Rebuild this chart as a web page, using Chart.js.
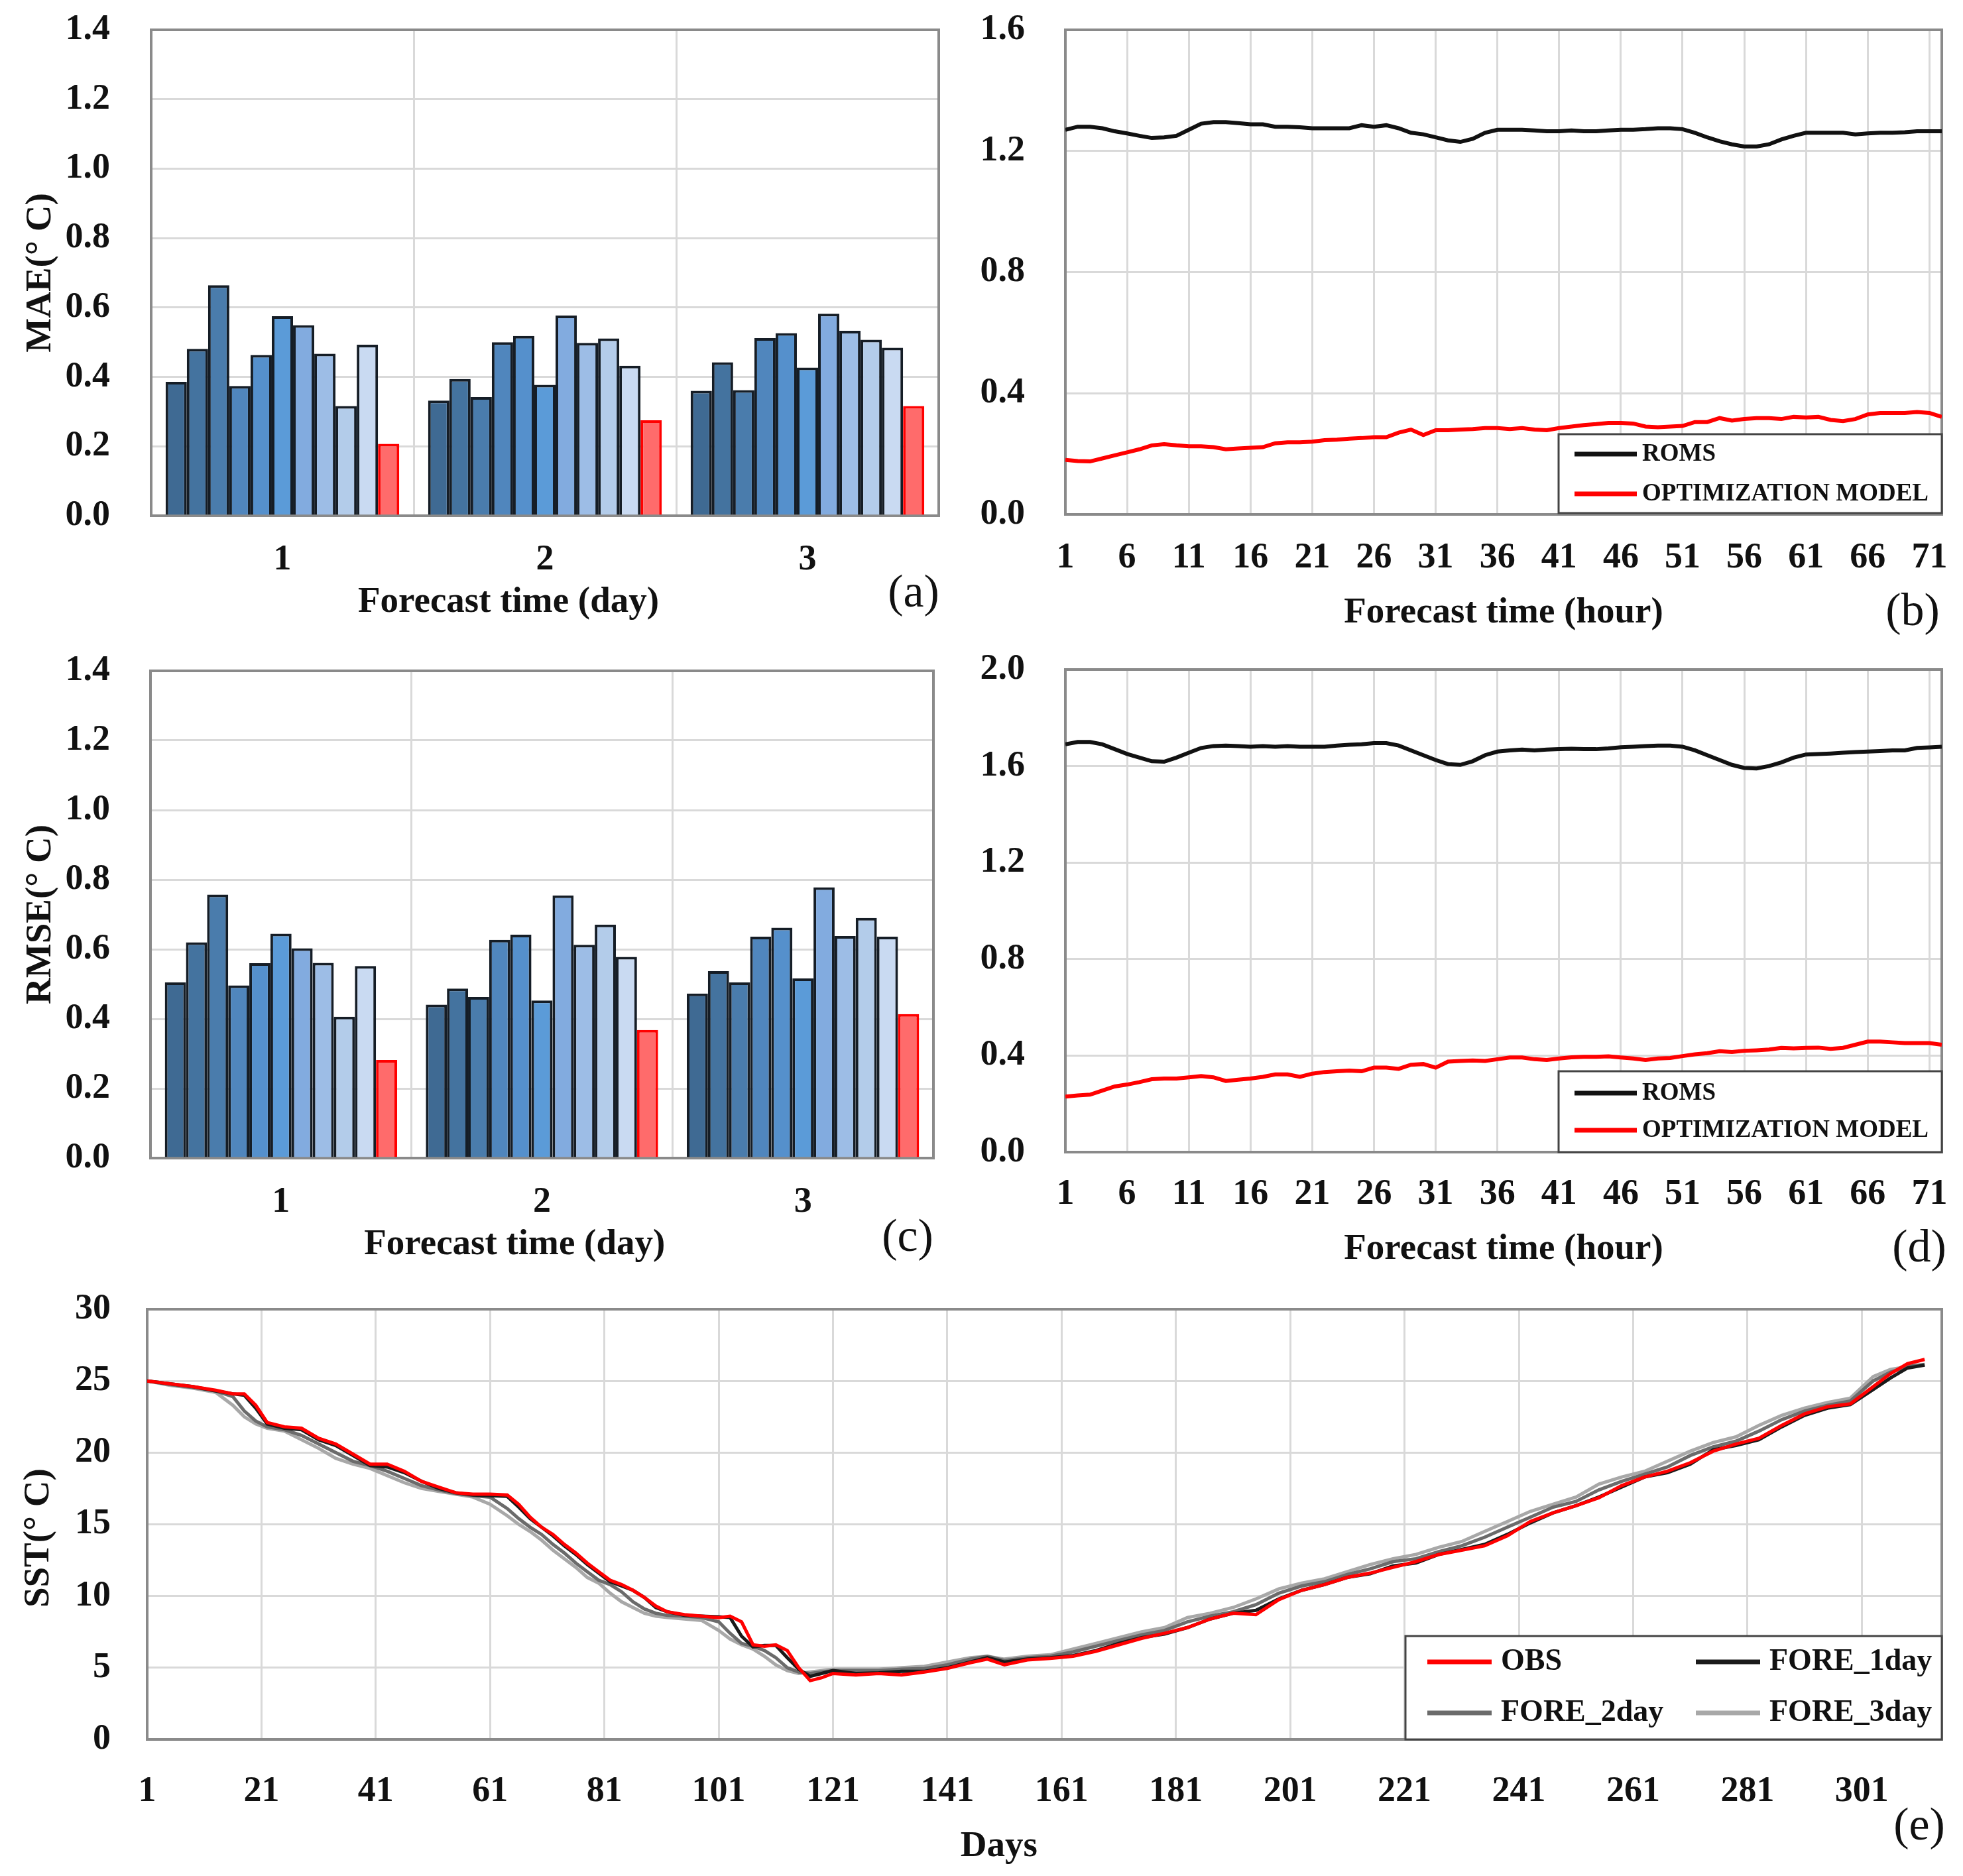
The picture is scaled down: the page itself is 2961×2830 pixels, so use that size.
<!DOCTYPE html>
<html>
<head>
<meta charset="utf-8">
<title>SST forecast error</title>
<script src="https://cdn.jsdelivr.net/npm/chart.js@4.4.1/dist/chart.umd.min.js"></script>
<style>
  body { margin: 0; background: #fff; }
  #page { position: relative; width: 2961px; height: 2830px; background: #fff; }
  .panel { position: absolute; }
</style>
</head>
<body>
<div id="page">
  <div class="panel" style="left:0px;top:0px;width:1450px;height:960px"><canvas id="chartA"></canvas></div>
  <div class="panel" style="left:1450px;top:0px;width:1511px;height:960px"><canvas id="chartB"></canvas></div>
  <div class="panel" style="left:0px;top:960px;width:1450px;height:960px"><canvas id="chartC"></canvas></div>
  <div class="panel" style="left:1450px;top:960px;width:1511px;height:960px"><canvas id="chartD"></canvas></div>
  <div class="panel" style="left:0px;top:1920px;width:2961px;height:910px"><canvas id="chartE"></canvas></div>
</div>
<script>
// ---- data ----
var dayLabels = ['1', '2', '3'];
var seriesNames = ['Model 1', 'Model 2', 'Model 3', 'Model 4', 'Model 5', 'Model 6',
                   'Model 7', 'Model 8', 'Model 9', 'Model 10', 'Optimization model'];

// MAE per forecast day (11 bars per group)
var maeDay1 = [0.386, 0.481, 0.664, 0.374, 0.463, 0.575, 0.549, 0.467, 0.316, 0.493, 0.207];
var maeDay2 = [0.332, 0.394, 0.342, 0.500, 0.518, 0.377, 0.577, 0.498, 0.511, 0.432, 0.275];
var maeDay3 = [0.360, 0.442, 0.362, 0.512, 0.526, 0.427, 0.582, 0.533, 0.507, 0.484, 0.316];

// RMSE per forecast day
var rmseDay1 = [0.505, 0.620, 0.757, 0.496, 0.560, 0.645, 0.603, 0.561, 0.406, 0.552, 0.282];
var rmseDay2 = [0.441, 0.487, 0.463, 0.627, 0.642, 0.453, 0.755, 0.613, 0.671, 0.578, 0.368];
var rmseDay3 = [0.473, 0.537, 0.505, 0.636, 0.662, 0.516, 0.778, 0.638, 0.690, 0.636, 0.414];

// hourly MAE / RMSE, hours 1..72
var hours = Array.from({ length: 72 }, function (_, i) { return i + 1; });
var hourTicks = [1, 6, 11, 16, 21, 26, 31, 36, 41, 46, 51, 56, 61, 66, 71];

var romsMae = [
  1.270, 1.280, 1.280, 1.275, 1.265, 1.258, 1.250, 1.243, 1.245, 1.250, 1.270, 1.290,
  1.295, 1.295, 1.292, 1.288, 1.288, 1.280, 1.280, 1.278, 1.275, 1.275, 1.275, 1.275,
  1.285, 1.280, 1.285, 1.275, 1.260, 1.255, 1.245, 1.235, 1.230, 1.240, 1.260, 1.270,
  1.270, 1.270, 1.268, 1.265, 1.265, 1.268, 1.265, 1.265, 1.268, 1.270, 1.270, 1.272,
  1.275, 1.275, 1.272, 1.260, 1.245, 1.232, 1.222, 1.215, 1.215, 1.222, 1.238, 1.250,
  1.260, 1.260, 1.260, 1.260, 1.255, 1.258, 1.260, 1.260, 1.262, 1.265, 1.265, 1.265];
var optMae = [
  0.180, 0.176, 0.175, 0.185, 0.195, 0.205, 0.215, 0.228, 0.232, 0.228, 0.225, 0.225,
  0.222, 0.215, 0.218, 0.220, 0.222, 0.235, 0.238, 0.238, 0.240, 0.245, 0.247, 0.250,
  0.252, 0.255, 0.255, 0.270, 0.280, 0.262, 0.278, 0.278, 0.280, 0.282, 0.285, 0.285,
  0.282, 0.285, 0.280, 0.278, 0.285, 0.290, 0.295, 0.298, 0.302, 0.302, 0.300, 0.290,
  0.288, 0.290, 0.292, 0.305, 0.305, 0.318, 0.310, 0.315, 0.318, 0.318, 0.315, 0.322,
  0.320, 0.322, 0.312, 0.308, 0.315, 0.330, 0.335, 0.335, 0.335, 0.338, 0.335, 0.322];
var romsRmse = [
  1.690, 1.700, 1.700, 1.690, 1.670, 1.650, 1.635, 1.620, 1.618, 1.635, 1.655, 1.675,
  1.683, 1.685, 1.683, 1.680, 1.683, 1.680, 1.683, 1.680, 1.680, 1.680, 1.685, 1.688,
  1.690, 1.695, 1.695, 1.685, 1.665, 1.645, 1.625, 1.608, 1.605, 1.620, 1.645, 1.660,
  1.665, 1.668, 1.665, 1.668, 1.670, 1.672, 1.670, 1.670, 1.673, 1.678, 1.680, 1.683,
  1.685, 1.685, 1.680, 1.665, 1.645, 1.625, 1.605, 1.592, 1.590, 1.600, 1.615, 1.635,
  1.648, 1.650, 1.652, 1.655, 1.658, 1.660, 1.662, 1.665, 1.665, 1.675, 1.677, 1.680];
var optRmse = [
  0.230, 0.235, 0.238, 0.255, 0.272, 0.280, 0.290, 0.302, 0.305, 0.305, 0.310, 0.315,
  0.310, 0.295, 0.300, 0.305, 0.312, 0.322, 0.322, 0.312, 0.325, 0.332, 0.335, 0.338,
  0.335, 0.350, 0.350, 0.345, 0.362, 0.365, 0.350, 0.375, 0.378, 0.380, 0.378, 0.385,
  0.392, 0.392, 0.385, 0.382, 0.388, 0.393, 0.395, 0.395, 0.397, 0.392, 0.388, 0.382,
  0.388, 0.390, 0.398, 0.405, 0.410, 0.418, 0.415, 0.420, 0.422, 0.425, 0.432, 0.430,
  0.432, 0.433, 0.428, 0.432, 0.445, 0.458, 0.458, 0.455, 0.452, 0.452, 0.452, 0.445];

// daily SST, sampled days
var dayTicks = [1, 21, 41, 61, 81, 101, 121, 141, 161, 181, 201, 221, 241, 261, 281, 301];
var sstDays = [
  1, 5, 9, 13, 16, 18, 20, 22, 25, 28,
  31, 34, 37, 40, 43, 46, 49, 52, 55, 58,
  61, 64, 66, 68, 70, 72, 74, 76, 78, 80,
  82, 84, 86, 88, 90, 92, 95, 98, 101, 103,
  105, 107, 109, 111, 113, 115, 117, 119, 121, 125,
  129, 133, 137, 141, 145, 148, 151, 155, 159, 163,
  167, 171, 175, 179, 183, 187, 191, 195, 199, 203,
  207, 211, 215, 219, 223, 227, 231, 235, 239, 243,
  247, 251, 255, 259, 263, 267, 271, 275, 279, 283,
  287, 291, 295, 299, 303, 306, 309, 312];
var sstObs = [
  25.0, 24.8, 24.6, 24.35, 24.1, 24.1, 23.3, 22.1, 21.8, 21.7,
  21.0, 20.6, 19.9, 19.2, 19.2, 18.7, 18.0, 17.6, 17.2, 17.1,
  17.1, 17.05, 16.4, 15.5, 14.8, 14.3, 13.6, 13.0, 12.3, 11.7,
  11.1, 10.8, 10.4, 9.9, 9.3, 8.9, 8.7, 8.6, 8.5, 8.6,
  8.2, 6.6, 6.5, 6.6, 6.2, 5.0, 4.1, 4.3, 4.6, 4.5,
  4.6, 4.5, 4.7, 4.95, 5.35, 5.6, 5.2, 5.55, 5.65, 5.8,
  6.15, 6.6, 7.05, 7.4, 7.8, 8.4, 8.8, 8.7, 9.75, 10.4,
  10.8, 11.3, 11.6, 12.0, 12.4, 12.9, 13.2, 13.5, 14.2, 15.2,
  15.8, 16.3, 16.85, 17.7, 18.3, 18.7, 19.3, 20.1, 20.6, 21.0,
  21.9, 22.7, 23.2, 23.4, 24.6, 25.5, 26.2, 26.5];
var sstFore1 = [
  25.0, 24.8, 24.6, 24.3, 24.1, 24.0, 23.1, 22.0, 21.7, 21.6,
  20.9, 20.5, 19.8, 19.1, 19.0, 18.6, 18.0, 17.5, 17.2, 17.05,
  17.0, 16.95, 16.2, 15.4, 14.8, 14.2, 13.5, 12.9, 12.2, 11.6,
  11.0, 10.7, 10.4, 9.9, 9.2, 8.9, 8.65, 8.6, 8.55, 8.5,
  7.2, 6.45, 6.55, 6.55, 5.7, 4.9, 4.4, 4.6, 4.8, 4.6,
  4.65, 4.75, 4.75, 5.0, 5.4, 5.7, 5.4, 5.6, 5.7, 5.85,
  6.2, 6.7, 7.1, 7.35, 7.8, 8.4, 8.8, 9.0, 9.8, 10.4,
  10.8, 11.3, 11.55, 12.1, 12.3, 12.9, 13.25, 13.6, 14.3, 15.1,
  15.8, 16.3, 16.9, 17.6, 18.3, 18.6, 19.2, 20.2, 20.5, 20.9,
  21.8, 22.6, 23.1, 23.35, 24.4, 25.2, 25.9, 26.1];
var sstFore2 = [
  25.0, 24.75, 24.55, 24.3, 23.9, 22.9, 22.2, 21.8, 21.6, 21.2,
  20.6, 20.0, 19.4, 19.1, 18.7, 18.2, 17.7, 17.4, 17.15, 17.0,
  16.9, 16.1, 15.4, 14.8, 14.3, 13.6, 13.0, 12.3, 11.7, 11.1,
  10.8, 10.3, 9.6, 9.1, 8.8, 8.65, 8.6, 8.5, 8.2, 7.4,
  6.7, 6.5, 6.2, 5.7, 5.0, 4.7, 4.6, 4.7, 4.8, 4.8,
  4.8, 4.9, 4.95, 5.2, 5.6, 5.8, 5.5, 5.7, 5.8, 6.1,
  6.5, 6.9, 7.3, 7.6, 8.2, 8.6, 8.9, 9.4, 10.2, 10.7,
  11.0, 11.5, 11.9, 12.4, 12.6, 13.1, 13.5, 14.1, 14.8, 15.5,
  16.2, 16.6, 17.4, 18.0, 18.5, 19.0, 19.8, 20.4, 20.8, 21.5,
  22.3, 22.9, 23.3, 23.6, 25.0, 25.6, 26.0, 26.15];
var sstFore3 = [
  25.0, 24.7, 24.5, 24.2, 23.3, 22.5, 22.0, 21.7, 21.5, 20.9,
  20.3, 19.6, 19.2, 18.9, 18.4, 17.9, 17.5, 17.3, 17.1, 16.9,
  16.4, 15.6, 15.0, 14.5, 13.9, 13.2, 12.6, 12.0, 11.3, 10.9,
  10.2, 9.6, 9.2, 8.8, 8.6, 8.5, 8.4, 8.3, 7.6, 7.0,
  6.6, 6.3, 5.8, 5.2, 4.8, 4.6, 4.7, 4.8, 4.9, 4.9,
  4.9, 5.0, 5.1, 5.4, 5.7, 5.8, 5.6, 5.8, 5.9, 6.3,
  6.7, 7.1, 7.5, 7.8, 8.5, 8.8, 9.2, 9.8, 10.5, 10.9,
  11.2, 11.7, 12.2, 12.6, 12.9, 13.4, 13.8, 14.5, 15.2, 15.9,
  16.4, 16.9, 17.8, 18.3, 18.7, 19.4, 20.1, 20.7, 21.1, 21.9,
  22.6, 23.1, 23.5, 23.8, 25.3, 25.8, 26.0, 26.1];

// ---- styling ----
var barColors = ['#3f6a93', '#44739f', '#4a7cac', '#5086bd', '#5590cc', '#5b9bd8',
                 '#82abdf', '#9dbde6', '#b3ccea', '#c9daf2', '#ff6b6b'];
var serif = "'Liberation Serif', 'Times New Roman', serif";
var gridColor = '#d9d9d9';
var frameColor = '#8a8a8a';

Chart.defaults.font.family = serif;
Chart.defaults.color = '#111';
Chart.defaults.animation = false;

// grey box around the plot area
var framePlugin = {
  id: 'frame',
  beforeDatasetsDraw: function (chart) {
    var a = chart.chartArea, ctx = chart.ctx;
    ctx.save();
    ctx.strokeStyle = frameColor;
    ctx.lineWidth = 4;
    ctx.strokeRect(a.left, a.top, a.right - a.left, a.bottom - a.top);
    ctx.restore();
  }
};

// (a), (b) ... panel letters
var panelLabelPlugin = {
  id: 'panelLabel',
  afterDraw: function (chart, args, o) {
    if (!o.text) return;
    var ctx = chart.ctx;
    ctx.save();
    ctx.font = '70px ' + serif;
    ctx.fillStyle = '#111';
    ctx.textAlign = 'center';
    ctx.textBaseline = 'middle';
    ctx.fillText(o.text, o.x, o.y);
    ctx.restore();
  }
};

// legend box drawn inside the plot area
var boxLegendPlugin = {
  id: 'boxLegend',
  afterDraw: function (chart, args, o) {
    if (!o.width) return;
    var ctx = chart.ctx;
    ctx.save();
    ctx.fillStyle = '#fff';
    ctx.fillRect(o.left, o.top, o.width, o.height);
    ctx.strokeStyle = '#444';
    ctx.lineWidth = 3;
    ctx.strokeRect(o.left, o.top, o.width, o.height);
    ctx.font = 'bold ' + o.fontSize + 'px ' + serif;
    ctx.textBaseline = 'middle';
    ctx.textAlign = 'left';
    chart.data.datasets.forEach(function (ds, i) {
      var col = i % o.cols, row = Math.floor(i / o.cols);
      var x = o.left + o.padX + col * o.colW;
      var y = o.top + o.firstRow + row * o.rowH;
      ctx.strokeStyle = ds.borderColor;
      ctx.lineWidth = 7;
      ctx.beginPath();
      ctx.moveTo(x, y);
      ctx.lineTo(x + o.lineLen, y);
      ctx.stroke();
      ctx.fillStyle = '#111';
      ctx.fillText(ds.label, x + o.lineLen + o.gap, y);
    });
    ctx.restore();
  }
};

function tickFont() { return { size: 54, weight: 'bold', family: serif }; }
function titleFont() { return { size: 55, weight: 'bold', family: serif }; }

// keep the plot area where the layout puts it (no extra room for half labels)
function noEdgePadding(s) {
  s.paddingTop = 0; s.paddingBottom = 0; s.paddingLeft = 0; s.paddingRight = 0;
}

function yAxis(title, max, step, width, tickPad, titlePad) {
  return {
    min: 0, max: max,
    afterFit: function (s) { s.width = width; noEdgePadding(s); },
    grid: { color: gridColor, lineWidth: 3, drawTicks: false },
    border: { color: frameColor, width: 4 },
    ticks: { stepSize: step, padding: tickPad, font: tickFont(), color: '#111',
             callback: function (v) { return step < 1 ? v.toFixed(1) : v; } },
    title: { display: !!title, text: title, font: titleFont(), color: '#111',
             padding: { top: titlePad, bottom: 0 } }
  };
}

// trailing blanks move the centred title a little off centre, as in the figure
function xTitle(text, bottomPad, shift) {
  return { display: true, text: text + ' '.repeat(shift || 0), font: titleFont(), color: '#111',
           padding: { top: 0, bottom: bottomPad } };
}

function barChart(id, yTitle, day1, day2, day3, lay, label) {
  var sets = [];
  for (var i = 0; i < day1.length; i++) {
    var isOpt = i === day1.length - 1;
    sets.push({
      label: seriesNames[i],
      data: [day1[i], day2[i], day3[i]],
      backgroundColor: barColors[i],
      borderColor: isOpt ? '#ff0000' : '#151d26',
      borderWidth: 4,
      categoryPercentage: 0.89,
      barPercentage: 1.0
    });
  }
  return new Chart(document.getElementById(id), {
    type: 'bar',
    data: { labels: dayLabels, datasets: sets },
    plugins: [framePlugin, panelLabelPlugin],
    options: {
      responsive: true, maintainAspectRatio: false, devicePixelRatio: 1,
      layout: { padding: { left: lay.pl, top: lay.pt, right: lay.pr, bottom: 0 } },
      plugins: { legend: { display: false }, tooltip: { enabled: false }, panelLabel: label },
      scales: {
        x: {
          afterFit: function (s) { s.height = lay.hx; noEdgePadding(s); },
          grid: { offset: true, color: gridColor, lineWidth: 3, drawTicks: false },
          border: { color: frameColor, width: 4 },
          ticks: { padding: lay.xtp, font: tickFont(), color: '#111' },
          title: xTitle('Forecast time (day)', lay.xtb, lay.shift)
        },
        y: yAxis(yTitle, 1.4, 0.2, lay.wy, lay.ytp, 9)
      }
    }
  });
}

function hourChart(id, roms, opt, yMax, lay, legend, label) {
  return new Chart(document.getElementById(id), {
    type: 'line',
    data: {
      datasets: [
        { label: 'ROMS', data: hours.map(function (h, i) { return { x: h, y: roms[i] }; }),
          borderColor: '#111111', borderWidth: 6, pointRadius: 0 },
        { label: 'OPTIMIZATION MODEL', data: hours.map(function (h, i) { return { x: h, y: opt[i] }; }),
          borderColor: '#ff0000', borderWidth: 6, pointRadius: 0 }
      ]
    },
    plugins: [framePlugin, boxLegendPlugin, panelLabelPlugin],
    options: {
      responsive: true, maintainAspectRatio: false, devicePixelRatio: 1,
      layout: { padding: { left: 0, top: lay.pt, right: lay.pr, bottom: 0 } },
      plugins: { legend: { display: false }, tooltip: { enabled: false },
                 boxLegend: legend, panelLabel: label },
      scales: {
        x: {
          type: 'linear', min: 1, max: 72,
          afterBuildTicks: function (s) { s.ticks = hourTicks.map(function (v) { return { value: v }; }); },
          afterFit: function (s) { s.height = lay.hx; noEdgePadding(s); },
          grid: { color: gridColor, lineWidth: 3, drawTicks: false },
          border: { color: frameColor, width: 4 },
          ticks: { padding: lay.xtp, font: tickFont(), color: '#111', autoSkip: false, maxRotation: 0 },
          title: xTitle('Forecast time (hour)', lay.xtb, 0)
        },
        y: yAxis('', yMax, 0.4, lay.wy, lay.ytp, 0)
      }
    }
  });
}

barChart('chartA', 'MAE(\u00b0 C)', maeDay1, maeDay2, maeDay3,
  { pl: 20, pt: 45, pr: 34, wy: 208, ytp: 62, hx: 182, xtp: 35, xtb: 18, shift: 8 },
  { text: '(a)', x: 1378, y: 897 });

hourChart('chartB', romsMae, optMae, 1.6,
  { pt: 45, pr: 32, wy: 157, ytp: 61, hx: 184, xtp: 34, xtb: 2 },
  { left: 901, top: 655, width: 578, height: 119, cols: 1, padX: 24, colW: 0,
    lineLen: 94, gap: 8, firstRow: 30, rowH: 60, fontSize: 37 },
  { text: '(b)', x: 1435, y: 925 });

barChart('chartC', 'RMSE(\u00b0 C)', rmseDay1, rmseDay2, rmseDay3,
  { pl: 20, pt: 52, pr: 42, wy: 207, ytp: 61, hx: 173, xtp: 35, xtb: 9, shift: 6 },
  { text: '(c)', x: 1369, y: 909 });

hourChart('chartD', romsRmse, optRmse, 2.0,
  { pt: 50, pr: 32, wy: 157, ytp: 61, hx: 182, xtp: 32, xtb: 2 },
  { left: 901, top: 656, width: 578, height: 122, cols: 1, padX: 24, colW: 0,
    lineLen: 94, gap: 8, firstRow: 33, rowH: 56, fontSize: 37 },
  { text: '(d)', x: 1445, y: 925 });

// (e) SST time series
function sstSet(label, values, color) {
  return {
    label: label,
    data: sstDays.map(function (d, i) { return { x: d, y: values[i] }; }),
    borderColor: color, borderWidth: 5, pointRadius: 0
  };
}

new Chart(document.getElementById('chartE'), {
  type: 'line',
  data: {
    datasets: [
      sstSet('OBS', sstObs, '#ff0000'),
      sstSet('FORE_1day', sstFore1, '#1a1a1a'),
      sstSet('FORE_2day', sstFore2, '#6b6b6b'),
      sstSet('FORE_3day', sstFore3, '#a8a8a8')
    ]
  },
  plugins: [framePlugin, boxLegendPlugin, panelLabelPlugin],
  options: {
    responsive: true, maintainAspectRatio: false, devicePixelRatio: 1,
    layout: { padding: { left: 20, top: 55, right: 32, bottom: 0 } },
    plugins: {
      legend: { display: false }, tooltip: { enabled: false },
      boxLegend: { left: 2120, top: 548, width: 809, height: 156, cols: 2, padX: 33, colW: 405,
                   lineLen: 97, gap: 14, firstRow: 39, rowH: 77, fontSize: 46 },
      panelLabel: { text: '(e)', x: 2895, y: 837 }
    },
    scales: {
      x: {
        type: 'linear', min: 1, max: 315,
        afterBuildTicks: function (s) { s.ticks = dayTicks.map(function (v) { return { value: v }; }); },
        afterFit: function (s) { s.height = 206; noEdgePadding(s); },
        grid: { color: gridColor, lineWidth: 3, drawTicks: false },
        border: { color: frameColor, width: 4 },
        ticks: { padding: 47, font: tickFont(), color: '#111', autoSkip: false, maxRotation: 0 },
        title: xTitle('Days', 11, 10)
      },
      y: yAxis('SST(\u00b0 C)   ', 30, 5, 202, 55, 6)
    }
  }
});
</script>
</body>
</html>
